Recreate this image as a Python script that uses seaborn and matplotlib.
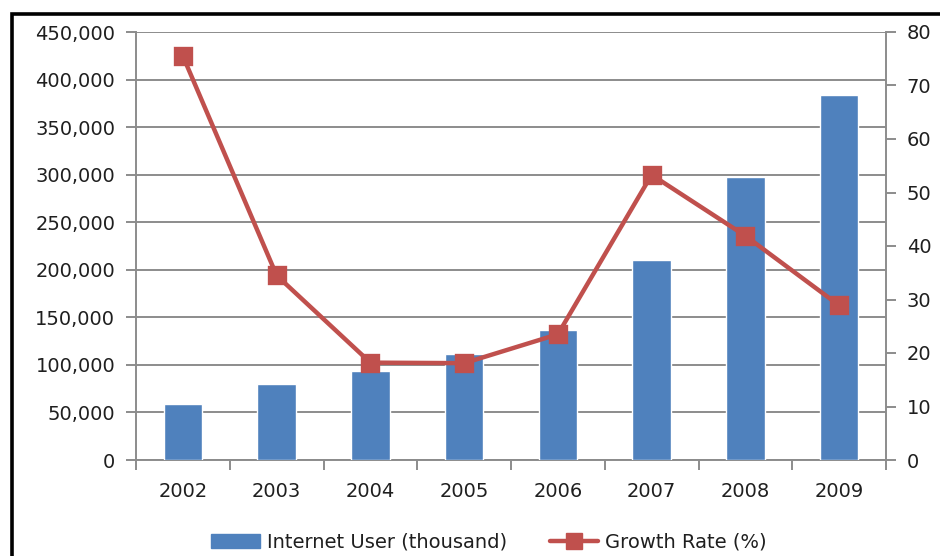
import matplotlib
matplotlib.use("Agg")
import matplotlib.pyplot as plt
import matplotlib.patches as mpatches
from matplotlib.lines import Line2D
from matplotlib.ticker import FuncFormatter, MultipleLocator, FixedLocator
import numpy as np
import pandas as pd
import seaborn as sns

years = ["2002", "2003", "2004", "2005", "2006", "2007", "2008", "2009"]
users_thousand = [59100, 79500, 94000, 111000, 137000, 210000, 298000, 384000]
growth_rate = [75.5, 34.5, 18.2, 18.1, 23.5, 53.3, 41.9, 28.9]

bar_color = "#4F81BD"
line_color = "#C0504D"
grid_color = "#8C8C8C"
text_color = "#1F1F1F"
font_size = 14

sns.set_theme(style="white")
plt.rcParams["font.family"] = ["DejaVu Sans"]

df = pd.DataFrame({"year": years, "users": users_thousand, "growth": growth_rate})

fig = plt.figure(figsize=(9.4, 5.56), dpi=100)
ax = fig.add_axes([136 / 940, 1 - 460 / 556, (886 - 136) / 940, (460 - 32) / 556])

sns.barplot(data=df, x="year", y="users", color=bar_color, width=0.41,
            saturation=1, ax=ax, zorder=3)
ax.set_ylim(0, 450000)
ax.yaxis.set_major_locator(MultipleLocator(50000))
ax.yaxis.set_major_formatter(FuncFormatter(lambda v, p: f"{int(v):,}"))
ax.grid(axis="y", color=grid_color, linewidth=1.4, zorder=0)
ax.set_axisbelow(True)

ax2 = ax.twinx()
sns.pointplot(data=df, x="year", y="growth", color=line_color, markers="s",
              linestyles="-", markersize=11, linewidth=3.2, ax=ax2, zorder=5)
ax2.set_ylim(0, 80)
ax2.yaxis.set_major_locator(MultipleLocator(10))

for a in (ax, ax2):
    a.set_xlim(-0.5, len(years) - 0.5)
    a.set_xlabel("")
    a.set_ylabel("")
    for side, sp in a.spines.items():
        sp.set_color(grid_color)
        sp.set_linewidth(1.4)
    a.spines["top"].set_visible(False)

ax.spines["right"].set_visible(False)
ax2.spines["left"].set_visible(False)
ax2.spines["bottom"].set_visible(False)

ax.tick_params(axis="y", which="major", left=True, length=7, width=1.4,
               color=grid_color, labelsize=font_size, labelcolor=text_color, pad=8)
ax2.tick_params(axis="y", which="major", right=True, length=7, width=1.4,
                color=grid_color, labelsize=font_size, labelcolor=text_color, pad=8)
ax.set_xticks(range(len(years)))
ax.set_xticklabels(years)
ax.tick_params(axis="x", which="major", length=0, labelsize=font_size,
               labelcolor=text_color, pad=16)
ax.xaxis.set_minor_locator(FixedLocator(np.arange(-0.5, len(years), 1.0)))
ax.tick_params(axis="x", which="minor", bottom=True, length=7, width=1.4,
               color=grid_color)
ax2.tick_params(axis="x", which="both", bottom=False, top=False,
                labelbottom=False)

handles = [
    mpatches.Patch(color=bar_color, label="Internet User (thousand)"),
    Line2D([0], [0], color=line_color, linewidth=3.2, marker="s",
           markersize=11, label="Growth Rate (%)"),
]
fig.legend(handles=handles, loc="center", bbox_to_anchor=(489 / 940, 1 - 542 / 556),
           ncol=2, frameon=False, fontsize=font_size, handlelength=2.5,
           handletextpad=0.35, columnspacing=2.2, labelcolor=text_color)

# outer chart frame
frame = mpatches.Rectangle((12 / 940, -0.05), 1.2, 1.05 - 14 / 556,
                           transform=fig.transFigure, fill=False,
                           edgecolor="black", linewidth=2.6, clip_on=False)
fig.patches.append(frame)

fig.savefig("out.png", dpi=100)
